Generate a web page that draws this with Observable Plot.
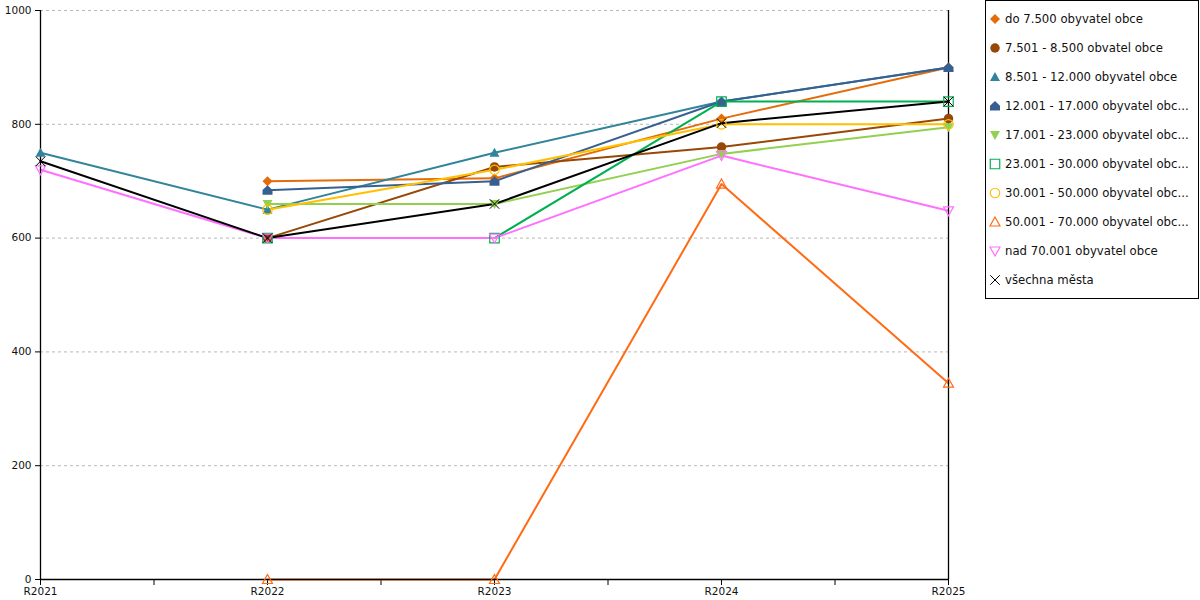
<!DOCTYPE html>
<html>
<head>
<meta charset="utf-8">
<script src="https://cdn.jsdelivr.net/npm/d3@7"></script>
<script src="https://cdn.jsdelivr.net/npm/@observablehq/plot@0.6"></script>
<style>
  html, body { margin: 0; padding: 0; background: #fff; }
  #wrap { position: relative; width: 1200px; height: 600px; font-family: "DejaVu Sans", Verdana, sans-serif; }
  #legend { position: absolute; left: 985px; top: 0px; width: 214px; height: 299px; border: 1px solid #000; background: #fff; box-sizing: border-box; }
  .item { position: absolute; left: 0; height: 16px; display: flex; align-items: center; font-size: 11.7px; color: #111; white-space: nowrap; }
  .item svg { margin-left: 3px; margin-right: 4px; }
</style>
</head>
<body>
<div id="wrap"><div id="chart"></div><div id="legend"></div></div>
<script>
// ---- data ----
const categories = ["R2021", "R2022", "R2023", "R2024", "R2025"];
const seriesNames = [
  "do 7.500 obyvatel obce",
  "7.501 - 8.500 obvatel obce",
  "8.501 - 12.000 obyvatel obce",
  "12.001 - 17.000 obyvatel obc...",
  "17.001 - 23.000 obyvatel obc...",
  "23.001 - 30.000 obyvatel obc...",
  "30.001 - 50.000 obyvatel obc...",
  "50.001 - 70.000 obyvatel obc...",
  "nad 70.001 obyvatel obce",
  "všechna města"
];
const vDo7500  = [null, 700, 705, 810, 900];
const v7501    = [null, 600, 725, 760, 810];
const v8501    = [750, 650, 750, 840, 900];
const v12001   = [null, 684, 700, 840, 900];
const v17001   = [null, 660, 660, 748, 795];
const v23001   = [null, 600, 600, 840, 840];
const v30001   = [null, 650, 720, 800, 800];
const v50001   = [null, 0, 0, 695, 345];
const v70001   = [720, 600, 600, 745, 648];
const vAll     = [735, 600, 660, 802, 840];
const seriesValues = [vDo7500, v7501, v8501, v12001, v17001, v23001, v30001, v50001, v70001, vAll];
const yTicks = [0, 200, 400, 600, 800, 1000];

// ---- styles ----
const mk = (fn) => ({ draw(ctx, size) { const r = Math.sqrt(size / Math.PI); fn(ctx, r); } });
const symDiamond = mk((c, r) => { c.moveTo(0, -r); c.lineTo(r, 0); c.lineTo(0, r); c.lineTo(-r, 0); c.closePath(); });
const symCircle = mk((c, r) => { const q = r * 0.95; c.moveTo(q, 0); c.arc(0, 0, q, 0, 2 * Math.PI); c.closePath(); });
const symTriUp = mk((c, r) => { c.moveTo(0, -r); c.lineTo(r, r * 0.8); c.lineTo(-r, r * 0.8); c.closePath(); });
const symHouse = mk((c, r) => { c.moveTo(0, -r); c.lineTo(r, -r * 0.05); c.lineTo(r, r * 0.9); c.lineTo(-r, r * 0.9); c.lineTo(-r, -r * 0.05); c.closePath(); });
const symTriDown = mk((c, r) => { c.moveTo(-r, -r * 0.8); c.lineTo(r, -r * 0.8); c.lineTo(0, r); c.closePath(); });
const symSquare = mk((c, r) => { const q = r * 0.95; c.rect(-q, -q, 2 * q, 2 * q); });
const symTimes = mk((c, r) => { const q = r * 0.95; c.moveTo(-q, -q); c.lineTo(q, q); c.moveTo(q, -q); c.lineTo(-q, q); });

const styles = [
  { color: "#e46c0a", symbol: symDiamond, filled: true },
  { color: "#974806", symbol: symCircle, filled: true },
  { color: "#31849b", symbol: symTriUp, filled: true },
  { color: "#376092", symbol: symHouse, filled: true },
  { color: "#92d050", symbol: symTriDown, filled: true },
  { color: "#00b050", symbol: symSquare, filled: false },
  { color: "#ffc000", symbol: symCircle, filled: false },
  { color: "#ff6a13", symbol: symTriUp, filled: false },
  { color: "#ff70ff", symbol: symTriDown, filled: false },
  { color: "#000000", symbol: symTimes, filled: false }
];

// tidy table
const rows = [];
seriesNames.forEach((name, si) => {
  seriesValues[si].forEach((v, xi) => {
    if (v != null) rows.push({ series: name, si, x: xi, y: v });
  });
});

const lineMarks = seriesNames.map((name, si) =>
  Plot.line(rows.filter(d => d.si === si), { x: "x", y: "y", stroke: styles[si].color, strokeWidth: 2 })
);
const dotMarks = seriesNames.map((name, si) => {
  const st = styles[si];
  return Plot.dot(rows.filter(d => d.si === si), {
    x: "x", y: "y", r: 5, symbol: st.symbol,
    fill: st.filled ? st.color : "none",
    stroke: st.filled ? "none" : st.color,
    strokeWidth: si === 9 ? 1 : 1.2
  });
});

const xTicks = d3.range(0, categories.length - 1 + 0.001, 0.5);

const chart = Plot.plot({
  width: 1200,
  height: 600,
  marginLeft: 40,
  marginRight: 252,
  marginTop: 10,
  marginBottom: 21,
  style: { fontFamily: "DejaVu Sans, Verdana, sans-serif", fontSize: "10.5px", color: "#111", background: "#fff" },
  x: { type: "linear", domain: [0, categories.length - 1] },
  y: { domain: [0, 1000] },
  marks: [
    Plot.gridY(yTicks.filter(t => t > 0), { stroke: "#b8b8b8", strokeOpacity: 1, strokeDasharray: "3,3", strokeWidth: 1 }),
    Plot.axisY({ ticks: yTicks, tickSize: 5, tickPadding: 4, label: null, stroke: "#000", tickFormat: d3.format("d") }),
    Plot.axisX({ ticks: xTicks, tickSize: 6, tickPadding: 2, label: null, stroke: "#000",
      tickFormat: d => Number.isInteger(d) ? categories[d] : "" }),
    ...lineMarks,
    Plot.ruleX([0, categories.length - 1], { stroke: "#000", strokeWidth: 1.3 }),
    Plot.ruleY([0], { stroke: "#000", strokeWidth: 1.3 }),
    ...dotMarks
  ]
});
document.getElementById("chart").appendChild(chart);

// ---- legend ----
const legend = document.getElementById("legend");
seriesNames.forEach((name, si) => {
  const st = styles[si];
  const item = document.createElement("div");
  item.className = "item";
  item.style.top = (10 + si * 29) + "px";
  const path = d3.symbol().type(st.symbol).size(Math.PI * 25)();
  item.innerHTML = `<svg width="12" height="12" viewBox="-6 -6 12 12"><path d="${path}" fill="${st.filled ? st.color : "none"}" stroke="${st.filled ? "none" : st.color}" stroke-width="${si === 9 ? 1 : 1.2}"></path></svg>`;
  const span = document.createElement("span");
  span.textContent = name;
  item.appendChild(span);
  legend.appendChild(item);
});
</script>
</body>
</html>
